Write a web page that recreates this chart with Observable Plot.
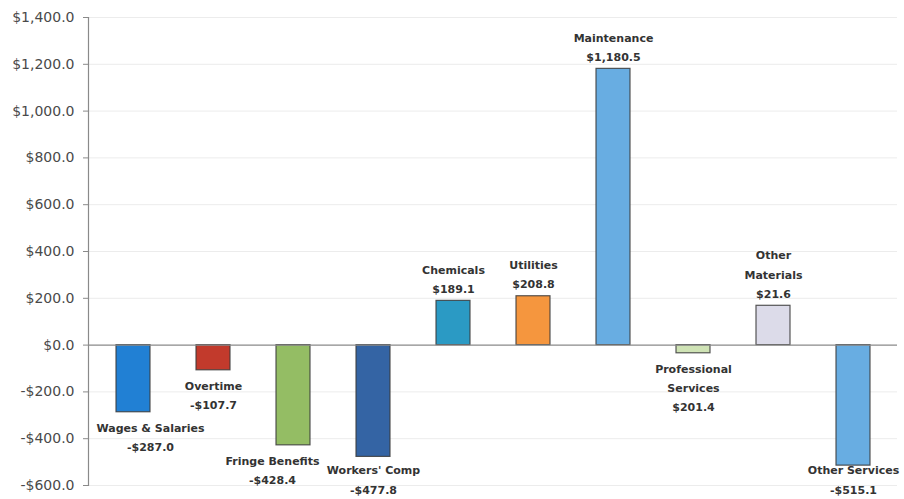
<!DOCTYPE html>
<html>
<head>
<meta charset="utf-8">
<script src="https://cdn.jsdelivr.net/npm/d3@7"></script>
<script src="https://cdn.jsdelivr.net/npm/@observablehq/plot@0.6"></script>
<style>
  html, body { margin: 0; padding: 0; background: #fff; }
  #chart { width: 904px; height: 499px; }
</style>
</head>
<body>
<div id="chart"></div>
<script>
// Categories, bar values (as drawn), and data-label texts (as printed)
const categories = ["Wages & Salaries", "Overtime", "Fringe Benefits", "Workers' Comp", "Chemicals",
  "Utilities", "Maintenance", "Professional Services", "Other Materials", "Other Services"];
const values = [-287.0, -107.7, -428.4, -477.8, 189.1, 208.8, 1180.5, -35, 168, -515.1];
const labelNames = ["Wages & Salaries", "Overtime", "Fringe Benefits", "Workers' Comp", "Chemicals",
  "Utilities", "Maintenance", "Professional\nServices", "Other\nMaterials", "Other Services"];
const labelValues = ["-$287.0", "-$107.7", "-$428.4", "-$477.8", "$189.1", "$208.8", "$1,180.5",
  "$201.4", "$21.6", "-$515.1"];
const colors = ["#2180d4", "#c23a2c", "#94bd64", "#3464a4", "#2b9ac4", "#f5963e", "#68ade2",
  "#cfe3b5", "#dcdbe9", "#68ade2"];
const yTicks = [-600, -400, -200, 0, 200, 400, 600, 800, 1000, 1200, 1400];

const data = categories.map((c, i) => ({
  cat: c, value: values[i], color: colors[i],
  label: labelNames[i] + "\n" + labelValues[i]
}));

// manual sideways label nudges (as dragged in the original chart)
const nudge = {"Wages & Salaries": 17, "Fringe Benefits": -21};

const fmt = v => (v < 0 ? "-$" : "$") + d3.format(",.1f")(Math.abs(v));

const labelStyle = {fontSize: 11, fontWeight: "bold", fill: "#333", lineHeight: 1.75,
  fontFamily: "'DejaVu Sans', sans-serif"};

const labelMarks = data.map(d => d.value < 0
  ? Plot.text([d], {x: "cat", y: v => Math.max(v.value, -468), text: "label", lineAnchor: "top",
      dy: 6, dx: nudge[d.cat] || 0, ...labelStyle})
  : Plot.text([d], {x: "cat", y: "value", text: "label", lineAnchor: "bottom",
      dy: -8, dx: nudge[d.cat] || 0, ...labelStyle})
);

const chart = Plot.plot({
  width: 904,
  height: 499,
  marginLeft: 88,
  marginRight: 7,
  marginTop: 17,
  marginBottom: 14,
  style: {fontFamily: "'DejaVu Sans', sans-serif", background: "#fff", overflow: "visible"},
  x: {domain: categories, paddingInner: 0.58, paddingOuter: 0.29, axis: null},
  y: {domain: [-600, 1400], ticks: yTicks, tickFormat: fmt, label: null},
  marks: [
    Plot.ruleY(yTicks.filter(t => t !== 0), {stroke: "#ececec", strokeWidth: 1}),
    Plot.barY(data, {x: "cat", y: "value", fill: "color", stroke: "#3a3a3a", strokeWidth: 1.2, strokeOpacity: 0.85}),
    Plot.ruleY([0], {stroke: "#8a8a8a", strokeWidth: 1.2}),
    Plot.frame({anchor: "left", stroke: "#8a8a8a", strokeWidth: 1.2}),
    Plot.axisY({ticks: yTicks, tickFormat: fmt, tickSize: 5, tickPadding: 9, fontSize: 14,
      fill: "#4a4a4a", stroke: "#8a8a8a", label: null}),
    ...labelMarks
  ]
});

document.getElementById("chart").appendChild(chart);
</script>
</body>
</html>
